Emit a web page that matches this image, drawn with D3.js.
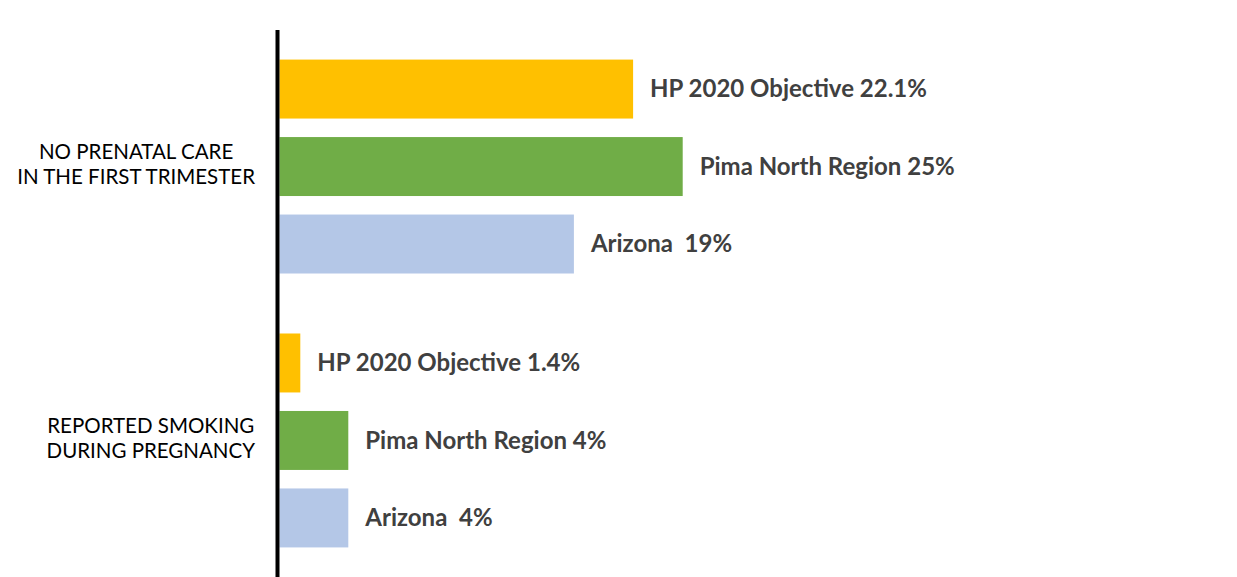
<!DOCTYPE html>
<html>
<head>
<meta charset="utf-8">
<script src="https://cdn.jsdelivr.net/npm/d3@7"></script>
<style>
  body { margin: 0; background: #fff; }
  svg { display: block; }
</style>
</head>
<body>
<div id="chart"></div>
<script>
// data
const categories = ['NO PRENATAL CARE\nIN THE FIRST TRIMESTER', 'REPORTED SMOKING\nDURING PREGNANCY'];
const seriesNames = ['HP 2020 Objective', 'Pima North Region', 'Arizona'];
const prenatalValues = [22.1, 25.2, 18.4];
const smokingValues = [1.3, 4.3, 4.3];
const prenatalLabels = ['HP 2020 Objective 22.1%', 'Pima North Region 25%', 'Arizona  19%'];
const smokingLabels = ['HP 2020 Objective 1.4%', 'Pima North Region 4%', 'Arizona  4%'];
const colors = ['#FFC000', '#70AD47', '#B4C7E7'];

const rows = [
  { cat: categories[0], values: prenatalValues, labels: prenatalLabels },
  { cat: categories[1], values: smokingValues, labels: smokingLabels }
];

const width = 1237, height = 577;
const axisX = 277.5;

const svg = d3.select('#chart').append('svg')
  .attr('width', width).attr('height', height);

const yScale = d3.scaleBand()
  .domain(categories)
  .range([30, 577])
  .paddingInner(0.219)
  .paddingOuter(0.108);

const ySub = d3.scaleBand()
  .domain(seriesNames)
  .range([0, yScale.bandwidth()])
  .paddingInner(0.239);

const xScale = d3.scaleLinear()
  .domain([0, 50])
  .range([279.5, 1079.5]);

// bars + labels
const groups = svg.selectAll('.group')
  .data(rows)
  .join('g')
  .attr('class', 'group')
  .attr('transform', d => `translate(0, ${yScale(d.cat)})`);

groups.selectAll('rect')
  .data(d => d.values.map((v, i) => ({ v, i, label: d.labels[i] })))
  .join('rect')
  .attr('x', xScale(0))
  .attr('y', d => ySub(seriesNames[d.i]))
  .attr('width', d => xScale(d.v) - xScale(0))
  .attr('height', ySub.bandwidth())
  .attr('fill', d => colors[d.i]);

groups.selectAll('text.val')
  .data(d => d.values.map((v, i) => ({ v, i, label: d.labels[i] })))
  .join('text')
  .attr('class', 'val')
  .attr('x', d => xScale(d.v) + 17)
  .attr('y', d => ySub(seriesNames[d.i]) + ySub.bandwidth() / 2)
  .attr('dy', '0.35em')
  .style('white-space', 'pre')
  .attr('fill', '#404040')
  .style('font-family', 'Lato, "Open Sans", sans-serif')
  .style('font-weight', 'bold')
  .style('font-size', '24px')
  .text(d => d.label);

// category labels: block right aligned, lines centred inside block
const catG = svg.selectAll('.cat')
  .data(categories)
  .join('g')
  .attr('class', 'cat');

catG.each(function(c) {
  const g = d3.select(this);
  const lines = c.split('\n');
  const lineH = 25;
  const cy = yScale(c) + yScale.bandwidth() / 2 - 2;
  const texts = g.selectAll('text')
    .data(lines)
    .join('text')
    .attr('y', (d, i) => cy + (i - (lines.length - 1) / 2) * lineH)
    .attr('dy', '0.35em')
    .attr('text-anchor', 'middle')
    .attr('fill', '#000')
    .style('font-family', 'Lato, "Open Sans", sans-serif')
    .style('font-size', '20.5px')
    .text(d => d);
  const maxW = d3.max(texts.nodes(), n => n.getComputedTextLength());
  texts.attr('x', 255 - maxW / 2);
});

// vertical axis line
svg.append('line')
  .attr('x1', axisX).attr('x2', axisX)
  .attr('y1', yScale.range()[0]).attr('y2', yScale.range()[1])
  .attr('stroke', '#000')
  .attr('stroke-width', 4);
</script>
</body>
</html>
